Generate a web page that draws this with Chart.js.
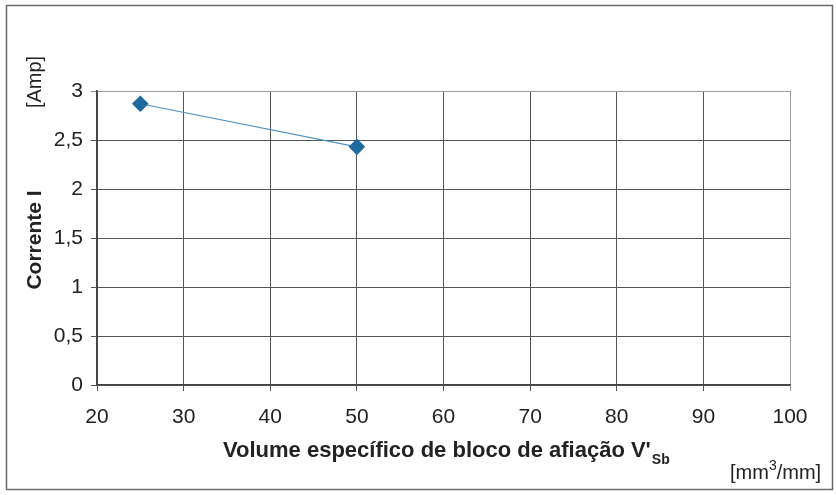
<!DOCTYPE html>
<html>
<head>
<meta charset="utf-8">
<script src="https://cdn.jsdelivr.net/npm/chart.js@4/dist/chart.umd.min.js"></script>
<style>
  html, body { margin: 0; padding: 0; background: #fff; }
  #wrap { width: 836px; height: 495px; position: relative; }
</style>
</head>
<body>
<div id="wrap"><canvas id="correnteChart"></canvas></div>
<script>
// volume especifico (mm3/mm) x corrente (A)
const volumes = [25, 50];
const correntes = [2.87, 2.43];
const xTicks = [20, 30, 40, 50, 60, 70, 80, 90, 100];
const yTicks = [0, 0.5, 1, 1.5, 2, 2.5, 3];

const FONT = '"Liberation Sans", Arial, sans-serif';

// moldura + titulos dos eixos (com subscrito/sobrescrito)
const titulos = {
  id: 'titulos',
  beforeDraw(chart) {
    const ctx = chart.ctx;
    ctx.save();
    ctx.strokeStyle = '#6a6a6a';
    ctx.lineWidth = 1.5;
    ctx.strokeRect(6.5, 5.5, 826, 484);
    ctx.restore();
  },
  afterDraw(chart) {
    const ctx = chart.ctx;
    ctx.save();
    ctx.fillStyle = '#222';
    ctx.textBaseline = 'middle';

    // eixo y
    ctx.save();
    ctx.translate(35, 240);
    ctx.rotate(-Math.PI / 2);
    ctx.textAlign = 'center';
    ctx.font = 'bold 21px ' + FONT;
    ctx.fillText('Corrente I', 0, 0);
    ctx.restore();

    ctx.save();
    ctx.translate(35, 82);
    ctx.rotate(-Math.PI / 2);
    ctx.textAlign = 'center';
    ctx.font = '20px ' + FONT;
    ctx.fillText('[Amp]', 0, 0);
    ctx.restore();

    // eixo x
    ctx.textAlign = 'left';
    ctx.font = 'bold 22px ' + FONT;
    const txt = "Volume específico de bloco de afiação V'";
    ctx.fillText(txt, 223, 451);
    const w = ctx.measureText(txt).width;
    ctx.font = 'bold 14px ' + FONT;
    ctx.fillText('Sb', 223 + w + 1, 460);

    // unidade
    ctx.font = '20px ' + FONT;
    let x = 730;
    ctx.fillText('[mm', x, 473);
    x += ctx.measureText('[mm').width;
    ctx.font = '14px ' + FONT;
    ctx.fillText('3', x, 466);
    x += ctx.measureText('3').width;
    ctx.font = '20px ' + FONT;
    ctx.fillText('/mm]', x, 473);
    ctx.restore();
  }
};

window.addEventListener('load', function () {
  const ctx = document.getElementById('correnteChart').getContext('2d');
  window.correnteChart = new Chart(ctx, {
    type: 'line',
    data: {
      datasets: [{
        data: volumes.map((v, i) => ({ x: v, y: correntes[i] })),
        borderColor: '#4f93c4',
        borderWidth: 1.2,
        pointStyle: 'rectRot',
        pointRadius: 7.5,
        pointBackgroundColor: '#1f6a9c',
        pointBorderColor: '#1f6a9c',
        tension: 0
      }]
    },
    options: {
      responsive: true,
      maintainAspectRatio: false,
      animation: false,
      layout: { padding: { left: 0, top: 91, right: 46, bottom: 0 } },
      plugins: { legend: { display: false }, tooltip: { enabled: false } },
      scales: {
        x: {
          type: 'linear',
          min: 20, max: 100,
          afterFit: s => { s.height = 110; },
          afterBuildTicks: s => { s.ticks = xTicks.map(v => ({ value: v })); },
          ticks: {
            color: '#222',
            font: { family: FONT, size: 21 },
            padding: 14
          },
          grid: {
            color: c => c.tick && c.tick.value === 100 ? '#9a9a9a' : '#555',
            lineWidth: 1,
            tickLength: 6
          },
          border: { color: '#444', width: 1.5 }
        },
        y: {
          min: 0, max: 3,
          afterFit: s => { s.width = 97; },
          afterBuildTicks: s => { s.ticks = yTicks.map(v => ({ value: v })); },
          ticks: {
            color: '#222',
            font: { family: FONT, size: 21 },
            padding: 8,
            callback: v => String(v).replace('.', ',')
          },
          grid: {
            color: c => c.tick && c.tick.value === 3 ? '#9a9a9a' : '#555',
            lineWidth: 1,
            tickLength: 6
          },
          border: { color: '#444', width: 1.5 }
        }
      }
    },
    plugins: [titulos]
  });
  return window.correnteChart;
});
</script>
</body>
</html>
